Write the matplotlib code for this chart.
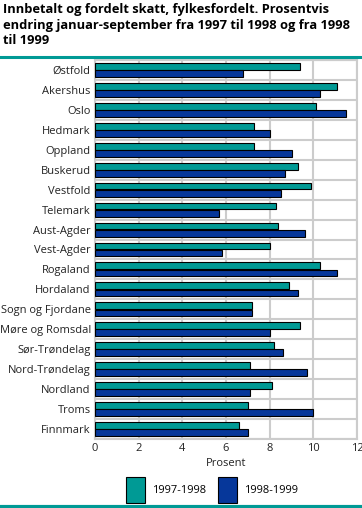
import numpy as np
import matplotlib.pyplot as plt
from matplotlib.patches import Patch

fylker = ['Østfold', 'Akershus', 'Oslo', 'Hedmark', 'Oppland', 'Buskerud',
          'Vestfold', 'Telemark', 'Aust-Agder', 'Vest-Agder', 'Rogaland',
          'Hordaland', 'Sogn og Fjordane', 'Møre og Romsdal', 'Sør-Trøndelag',
          'Nord-Trøndelag', 'Nordland', 'Troms', 'Finnmark']
endring_97_98 = [9.4, 11.1, 10.1, 7.3, 7.3, 9.3, 9.9, 8.3, 8.4, 8.0, 10.3,
                 8.9, 7.2, 9.4, 8.2, 7.1, 8.1, 7.0, 6.6]
endring_98_99 = [6.8, 10.3, 11.5, 8.0, 9.0, 8.7, 8.5, 5.7, 9.6, 5.8, 11.1,
                 9.3, 7.2, 8.0, 8.6, 9.7, 7.1, 10.0, 7.0]
serier = ['1997-1998', '1998-1999']
xticks = [0, 2, 4, 6, 8, 10, 12]

TEAL = '#009a95'
BLUE = '#06379a'
GRID = '#cccccc'

plt.rcParams['font.family'] = ['Open Sans', 'DejaVu Sans']

W, H = 362, 508
fig = plt.figure(figsize=(W / 100, H / 100), dpi=100)
fig.patch.set_facecolor('white')

# title + teal rules
fig.text(3 / W, 1 - 2.5 / H,
         'Innbetalt og fordelt skatt, fylkesfordelt. Prosentvis\n'
         'endring januar-september fra 1997 til 1998 og fra 1998\n'
         'til 1999',
         ha='left', va='top', fontsize=9.3, fontweight='bold',
         linespacing=1.3, color='black')
fig.add_artist(plt.Line2D([0, 1], [1 - 56.5 / H] * 2, color=TEAL, lw=2.2))
fig.add_artist(plt.Line2D([0, 1], [1.5 / H] * 2, color=TEAL, lw=3))

ax = fig.add_axes([95 / W, 1 - 439 / H, 262 / W, 379 / H])
n = len(fylker)
y = np.arange(n)
h = 0.34
ax.barh(y - h / 2 - 0.01, endring_97_98, height=h, color=TEAL,
        edgecolor='black', linewidth=0.8, zorder=3)
ax.barh(y + h / 2 + 0.01, endring_98_99, height=h, color=BLUE,
        edgecolor='black', linewidth=0.8, zorder=3)

ax.set_xlim(0, 12)
ax.set_ylim(n - 0.5, -0.5)
ax.set_xticks(xticks)
ax.set_xticklabels([str(t) for t in xticks])
ax.set_yticks(y)
ax.set_yticklabels(fylker)
ax.set_yticks(np.arange(-0.5, n, 1), minor=True)
ax.grid(True, axis='x', color=GRID, lw=1.5, zorder=0)
ax.grid(True, axis='y', which='minor', color=GRID, lw=1.5, zorder=0)
ax.grid(False, axis='y', which='major')
for s in ax.spines.values():
    s.set_color(GRID)
    s.set_linewidth(1.5)
ax.tick_params(length=0, labelsize=8, pad=3, colors='#222222')
ax.tick_params(axis='y', which='minor', length=0)
ax.set_xlabel('Prosent', fontsize=8, labelpad=3, color='#222222')

handles = [Patch(facecolor=TEAL, edgecolor='black', lw=0.8),
           Patch(facecolor=BLUE, edgecolor='black', lw=0.8)]
fig.legend(handles, serier, loc='center', bbox_to_anchor=(212 / W, 1 - 490 / H),
           ncol=2, frameon=False, fontsize=8, handlelength=1.7,
           handleheight=3.3, columnspacing=1.1, handletextpad=0.6)

fig.savefig('out.png', dpi=100)
